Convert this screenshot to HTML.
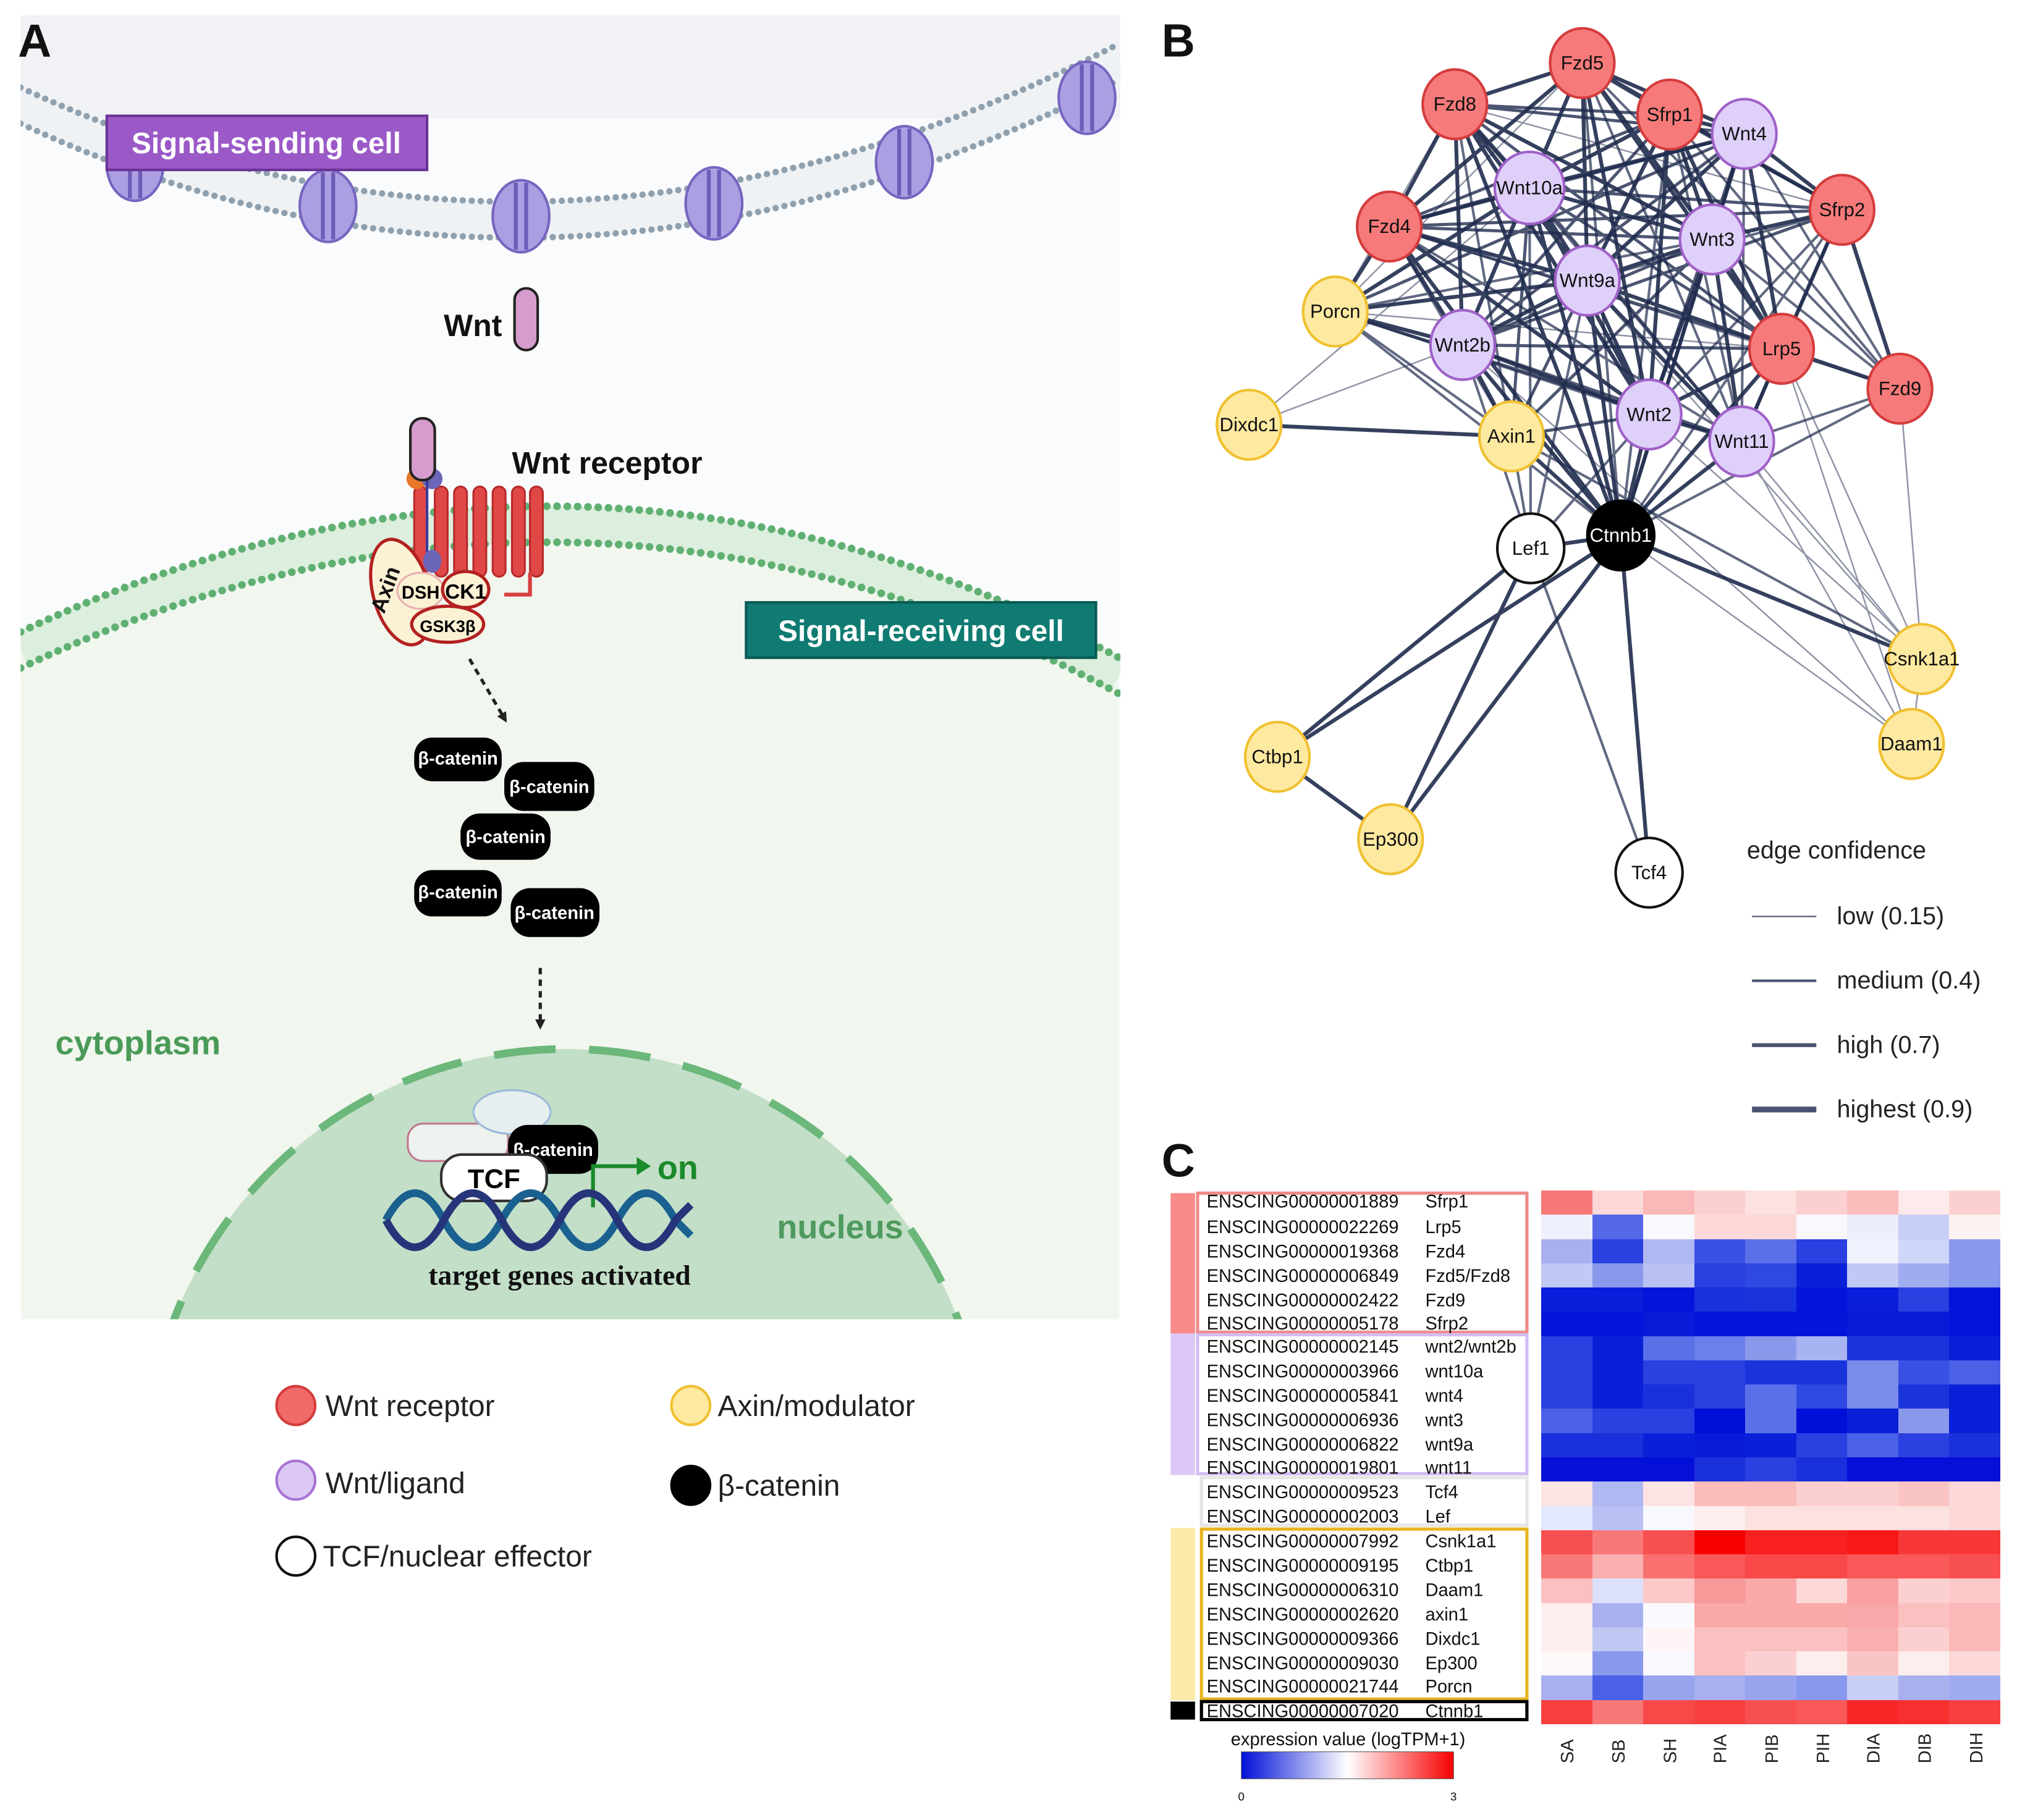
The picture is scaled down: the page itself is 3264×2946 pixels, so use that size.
<!DOCTYPE html>
<html><head><meta charset="utf-8"><style>
html,body{margin:0;padding:0;background:#fff;}
#w{position:relative;width:3264px;height:2946px;overflow:hidden;}
svg{position:absolute;left:0;top:0;}
#hm{position:absolute;left:2494px;top:1927px;width:743px;height:864px;display:grid;grid-template-columns:repeat(9,1fr);grid-template-rows:repeat(22,1fr);}
#hm i{display:block;}
</style></head><body><div id="w">
<svg width="3264" height="2946" viewBox="0 0 1568 1414" preserveAspectRatio="none" font-family="Liberation Sans, DejaVu Sans, sans-serif">
<defs>
<clipPath id="ca"><rect x="16" y="12" width="855" height="1013"/></clipPath>
<linearGradient id="cb" x1="0" x2="1"><stop offset="0" stop-color="#0010d8"/><stop offset=".5" stop-color="#ffffff"/><stop offset="1" stop-color="#f80000"/></linearGradient>
<marker id="ah" markerWidth="8" markerHeight="8" refX="4" refY="4" orient="auto" markerUnits="userSpaceOnUse"><path d="M0,0 L8,4 L0,8Z" fill="#222"/></marker>
</defs>
<!-- PANEL A -->
<g clip-path="url(#ca)">
<rect x="16" y="12" width="855" height="1013" fill="#fafbfc"/>
<rect x="16" y="12" width="855" height="80" fill="#f0f2f5"/>
<path d="M16,82 Q430,275 870,48" fill="none" stroke="#eef2f5" stroke-width="28"/>
<path d="M16,68 Q430,261 870,34" fill="none" stroke="#8fa0ae" stroke-width="5" stroke-linecap="round" stroke-dasharray="0 7"/>
<path d="M16,96 Q430,289 870,62" fill="none" stroke="#8fa0ae" stroke-width="5" stroke-linecap="round" stroke-dasharray="0 7"/>
<g fill="#ab9ee2" stroke="#7565c0" stroke-width="2">
<ellipse cx="105" cy="128" rx="22" ry="28"/><ellipse cx="255" cy="160" rx="22" ry="28"/><ellipse cx="405" cy="168" rx="22" ry="28"/><ellipse cx="555" cy="158" rx="22" ry="28"/><ellipse cx="703" cy="126" rx="22" ry="28"/><ellipse cx="845" cy="76" rx="22" ry="28"/>
</g>
<g stroke="#6d5cb8" stroke-width="3">
<line x1="101" y1="102" x2="101" y2="154"/><line x1="109" y1="102" x2="109" y2="154"/>
<line x1="251" y1="134" x2="251" y2="186"/><line x1="259" y1="134" x2="259" y2="186"/>
<line x1="401" y1="142" x2="401" y2="194"/><line x1="409" y1="142" x2="409" y2="194"/>
<line x1="551" y1="132" x2="551" y2="184"/><line x1="559" y1="132" x2="559" y2="184"/>
<line x1="699" y1="100" x2="699" y2="152"/><line x1="707" y1="100" x2="707" y2="152"/>
<line x1="841" y1="50" x2="841" y2="102"/><line x1="849" y1="50" x2="849" y2="102"/>
</g>
<rect x="83" y="90" width="249" height="42" fill="#9b59c8" stroke="#6a3396" stroke-width="2"/>
<text x="207" y="119" font-size="23" font-weight="bold" fill="#fff" text-anchor="middle">Signal-sending cell</text>
<text x="345" y="261" font-size="24" font-weight="bold" fill="#111">Wnt</text>
<rect x="400" y="224" width="18" height="48" rx="9" fill="#d59ccd" stroke="#222" stroke-width="2"/>
<path d="M16,505 Q450,300 870,525 L870,1025 L16,1025Z" fill="#f1f6ef"/>
<path d="M16,505 Q450,300 870,525" fill="none" stroke="#dceedd" stroke-width="28"/>
<path d="M16,491 Q450,286 870,511" fill="none" stroke="#5fb072" stroke-width="6" stroke-linecap="round" stroke-dasharray="0 8"/>
<path d="M16,519 Q450,314 870,539" fill="none" stroke="#5fb072" stroke-width="6" stroke-linecap="round" stroke-dasharray="0 8"/>
<circle cx="440" cy="1141" r="326" fill="#c3dfc8" stroke="#6cb77a" stroke-width="6" stroke-dasharray="48 26"/>
<g fill="#e04848" stroke="#b82a2a" stroke-width="1.5">
<rect x="322" y="378" width="10" height="70" rx="5"/><rect x="338" y="378" width="10" height="70" rx="5"/><rect x="353" y="378" width="10" height="70" rx="5"/><rect x="368" y="378" width="10" height="70" rx="5"/><rect x="383" y="378" width="10" height="70" rx="5"/><rect x="398" y="378" width="10" height="70" rx="5"/><rect x="412" y="378" width="10" height="70" rx="5"/>
</g>
<path d="M412,445 L412,462 L392,462" fill="none" stroke="#d84040" stroke-width="3"/>
<circle cx="324" cy="372" r="8" fill="#e8762a"/><circle cx="336" cy="372" r="8" fill="#6b66b8"/>
<line x1="332" y1="372" x2="332" y2="430" stroke="#3a3a9a" stroke-width="2"/>
<ellipse cx="336" cy="436" rx="7" ry="9" fill="#6b66b8"/>
<rect x="319" y="325" width="19" height="48" rx="9" fill="#d59ccd" stroke="#222" stroke-width="2"/>
<ellipse cx="312" cy="460" rx="22" ry="42" fill="#fbf1d5" stroke="#b32020" stroke-width="2.5" transform="rotate(-15 312 460)"/>
<text x="305" y="460" font-size="17" font-weight="bold" fill="#111" transform="rotate(-70 305 460)" text-anchor="middle">Axin</text>
<ellipse cx="327" cy="459" rx="18" ry="14" fill="#fbf1d5" stroke="#e8b0b0" stroke-width="1.5"/>
<text x="327" y="465" font-size="14" font-weight="bold" text-anchor="middle">DSH</text>
<ellipse cx="362" cy="458" rx="18" ry="14" fill="#fbf1d5" stroke="#b32020" stroke-width="2.5"/>
<text x="362" y="465" font-size="16" font-weight="bold" text-anchor="middle">CK1</text>
<ellipse cx="348" cy="485" rx="28" ry="14" fill="#fbf1d5" stroke="#b32020" stroke-width="2.5"/>
<text x="348" y="491" font-size="13" font-weight="bold" text-anchor="middle">GSK3β</text>
<rect x="580" y="468" width="272" height="43" fill="#0f7b72" stroke="#0a5a53" stroke-width="2"/>
<text x="716" y="498" font-size="23" font-weight="bold" fill="#fff" text-anchor="middle">Signal-receiving cell</text>
<line x1="365" y1="512" x2="392" y2="558" stroke="#222" stroke-width="2.5" stroke-dasharray="5 4" marker-end="url(#ah)"/>
<g fill="#000"><rect x="322" y="573" width="68" height="34" rx="14"/><rect x="392" y="592" width="70" height="38" rx="15"/><rect x="358" y="632" width="70" height="36" rx="15"/><rect x="322" y="676" width="68" height="36" rx="14"/><rect x="397" y="690" width="69" height="38" rx="15"/></g>
<g fill="#fff" font-size="14" font-weight="bold" text-anchor="middle"><text x="356" y="594">β-catenin</text><text x="427" y="616">β-catenin</text><text x="393" y="655">β-catenin</text><text x="356" y="698">β-catenin</text><text x="431" y="714">β-catenin</text></g>
<line x1="420" y1="752" x2="420" y2="796" stroke="#222" stroke-width="2.5" stroke-dasharray="5 4" marker-end="url(#ah)"/>
<text x="43" y="819" font-size="26" font-weight="bold" fill="#4a9a58">cytoplasm</text>
<text x="604" y="962" font-size="26" font-weight="bold" fill="#4f9a5e">nucleus</text>
<rect x="317" y="873" width="78" height="29" rx="12" fill="#eef2ee" stroke="#c07890" stroke-width="1.5"/>
<ellipse cx="398" cy="864" rx="30" ry="17" fill="#e6eef0" stroke="#9ab8d8" stroke-width="1.5"/>
<rect x="395" y="874" width="70" height="38" rx="15" fill="#000"/>
<text x="430" y="898" fill="#fff" font-size="14" font-weight="bold" text-anchor="middle">β-catenin</text>
<rect x="343" y="897" width="82" height="36" rx="16" fill="#fff" stroke="#333" stroke-width="2"/>
<text x="384" y="923" font-size="21" font-weight="bold" text-anchor="middle">TCF</text>
<path d="M461,938 L461,906 L497,906" fill="none" stroke="#1a8a2a" stroke-width="3"/>
<path d="M495,899 L506,906 L495,913Z" fill="#1a8a2a"/>
<text x="511" y="916" font-size="26" font-weight="bold" fill="#1a8a2a">on</text>
<path d="M300,948 C315,920 330,920 345,948 S375,976 390,948 S420,920 435,948 S465,976 480,948 S510,920 525,948 L537,960" fill="none" stroke="#1a6090" stroke-width="6"/>
<path d="M300,948 C315,976 330,976 345,948 S375,920 390,948 S420,976 435,948 S465,920 480,948 S510,976 525,948 L537,936" fill="none" stroke="#26357a" stroke-width="6"/>
<text x="435" y="998" font-size="22" font-weight="bold" font-family="Liberation Serif, serif" text-anchor="middle" fill="#111">target genes activated</text>
<text x="398" y="368" font-size="24" font-weight="bold" fill="#111">Wnt receptor</text>
</g>
<g stroke-width="2">
<circle cx="230" cy="1092" r="15" fill="#f06a6a" stroke="#d43c3c"/>
<circle cx="230" cy="1150" r="15" fill="#dcc8f4" stroke="#a572d3"/>
<circle cx="230" cy="1209" r="15" fill="#fff" stroke="#111"/>
<circle cx="537" cy="1092" r="15" fill="#fde9a0" stroke="#f0c030"/>
<circle cx="537" cy="1154" r="15" fill="#000" stroke="#000"/>
</g>
<g font-size="23" fill="#222"><text x="253" y="1100">Wnt receptor</text><text x="253" y="1160">Wnt/ligand</text><text x="251" y="1217">TCF/nuclear effector</text><text x="558" y="1100">Axin/modulator</text><text x="558" y="1162">β-catenin</text></g>
<g font-size="36" font-weight="bold" fill="#111"><text x="14" y="44">A</text><text x="903" y="44">B</text><text x="903" y="914">C</text></g>
<!-- PANEL B edges -->
<g fill="none" stroke="#1f2b4d" stroke-linecap="round">
<path stroke-width="3" stroke-opacity=".9" d="M1230,49L1131,81M1230,49L1298,89M1230,49L1356,104M1230,49L1189,146M1230,49L1080,176M1230,49L1331,186M1230,49L1234,218M1230,49L1137,268M1230,49L1282,322M1230,49L1385,271M1131,81L1189,146M1131,81L1080,176M1131,81L1234,218M1131,81L1137,268M1131,81L1331,186M1131,81L1282,322M1298,89L1356,104M1298,89L1189,146M1298,89L1331,186M1298,89L1234,218M1298,89L1282,322M1356,104L1331,186M1356,104L1234,218M1356,104L1189,146M1356,104L1432,163M1189,146L1080,176M1189,146L1234,218M1189,146L1137,268M1189,146L1282,322M1189,146L1331,186M1080,176L1234,218M1080,176L1137,268M1080,176L1282,322M1331,186L1234,218M1331,186L1385,271M1331,186L1282,322M1331,186L1354,343M1234,218L1137,268M1234,218L1282,322M1234,218L1385,271M1234,218L1354,343M1137,268L1282,322M1137,268L1175,339M1385,271L1282,322M1385,271L1354,343M1385,271L1477,302M1282,322L1354,343M1282,322L1260,416M1137,268L1260,416M1189,146L1260,416M1234,218L1260,416M1080,176L1260,416M1131,81L1260,416M1175,339L1260,416M1331,186L1260,416M1385,271L1260,416M1354,343L1260,416M1038,242L1137,268M1038,242L1189,146M1038,242L1234,218M1432,163L1331,186M1432,163L1385,271M1432,163L1477,302M1356,104L1385,271M1298,89L1385,271M1230,49L1432,163M1038,242L1080,176M1190,426L1260,416M993,588L1190,426M993,588L1260,416M993,588L1081,652M1081,652L1260,416M1081,652L1190,426M1282,678L1260,416M1494,512L1260,416M971,330L1175,339"/>
<path stroke-width="2.4" stroke-opacity=".8" d="M1131,81L1298,89M1131,81L1356,104M1298,89L1080,176M1298,89L1137,268M1356,104L1080,176M1356,104L1137,268M1356,104L1282,322M1189,146L1385,271M1189,146L1354,343M1080,176L1331,186M1080,176L1385,271M1137,268L1385,271M1137,268L1354,343M1137,268L1331,186M1175,339L1282,322M1175,339L1234,218M1175,339L1189,146M1175,339L1331,186M1038,242L1354,343M1080,176L1432,163M1137,268L1432,163M1131,81L1385,271M1298,89L1432,163M1038,242L1356,104M1080,176L1298,89M1189,146L1432,163"/>
<path stroke-width="2" stroke-opacity=".7" d="M1230,49L1477,302M1298,89L1477,302M1356,104L1477,302M1432,163L1354,343M1432,163L1282,322M1432,163L1234,218M1038,242L1282,322M1038,242L1175,339M1080,176L1175,339M1131,81L1175,339M1477,302L1354,343M1477,302L1331,186M1230,49L1354,343M1298,89L1354,343M1356,104L1354,343M1131,81L1354,343M1080,176L1354,343M1038,242L1331,186M1038,242L1260,416M1356,104L1260,416M1298,89L1260,416M1230,49L1260,416M1477,302L1260,416M1432,163L1260,416M1190,426L1175,339M1190,426L1137,268M1190,426L1282,322M1190,426L1189,146M1190,426L1234,218M1282,678L1190,426M1494,512L1175,339"/>
<path stroke-width="1.2" stroke-opacity=".5" d="M1038,242L1230,49M1038,242L1131,81M1038,242L1385,271M1080,176L1477,302M1131,81L1432,163M971,330L1137,268M971,330L1189,146M1494,512L1354,343M1494,512L1282,322M1494,512L1385,271M1494,512L1477,302M1494,512L1486,578M1486,578L1260,416M1486,578L1137,268M1486,578L1385,271M1486,578L1354,343M1494,512L1234,218"/>
</g>
<g stroke-width="2">
<g fill="#f77a7a" stroke="#d43c3c"><ellipse cx="1230" cy="49" rx="25" ry="27"/><ellipse cx="1131" cy="81" rx="25" ry="27"/><ellipse cx="1298" cy="89" rx="25" ry="27"/><ellipse cx="1432" cy="163" rx="25" ry="27"/><ellipse cx="1080" cy="176" rx="25" ry="27"/><ellipse cx="1385" cy="271" rx="25" ry="27"/><ellipse cx="1477" cy="302" rx="25" ry="27"/></g>
<g fill="#dfd0fa" stroke="#a060c8"><ellipse cx="1356" cy="104" rx="25" ry="27"/><ellipse cx="1189" cy="146" rx="27" ry="28"/><ellipse cx="1331" cy="186" rx="25" ry="27"/><ellipse cx="1234" cy="218" rx="25" ry="27"/><ellipse cx="1137" cy="268" rx="25" ry="27"/><ellipse cx="1282" cy="322" rx="25" ry="27"/><ellipse cx="1354" cy="343" rx="25" ry="27"/></g>
<g fill="#fde9a0" stroke="#f0c030"><ellipse cx="1038" cy="242" rx="25" ry="27"/><ellipse cx="971" cy="330" rx="25" ry="27"/><ellipse cx="1175" cy="339" rx="25" ry="27"/><ellipse cx="1494" cy="512" rx="26" ry="27"/><ellipse cx="1486" cy="578" rx="25" ry="27"/><ellipse cx="993" cy="588" rx="25" ry="27"/><ellipse cx="1081" cy="652" rx="25" ry="27"/></g>
<g fill="#fff" stroke="#111"><ellipse cx="1190" cy="426" rx="26" ry="27"/><ellipse cx="1282" cy="678" rx="26" ry="27"/></g>
<ellipse cx="1260" cy="416" rx="26" ry="27" fill="#000" stroke="#000"/>
</g>
<g font-size="15" text-anchor="middle" fill="#111">
<text x="1230" y="54">Fzd5</text><text x="1131" y="86">Fzd8</text><text x="1298" y="94">Sfrp1</text><text x="1356" y="109">Wnt4</text><text x="1189" y="151">Wnt10a</text><text x="1432" y="168">Sfrp2</text><text x="1080" y="181">Fzd4</text><text x="1331" y="191">Wnt3</text><text x="1234" y="223">Wnt9a</text><text x="1038" y="247">Porcn</text><text x="1137" y="273">Wnt2b</text><text x="1385" y="276">Lrp5</text><text x="1477" y="307">Fzd9</text><text x="971" y="335">Dixdc1</text><text x="1175" y="344">Axin1</text><text x="1282" y="327">Wnt2</text><text x="1354" y="348">Wnt11</text><text x="1190" y="431">Lef1</text><text x="1260" y="421" fill="#fff">Ctnnb1</text><text x="1494" y="517">Csnk1a1</text><text x="1486" y="583">Daam1</text><text x="993" y="593">Ctbp1</text><text x="1081" y="657">Ep300</text><text x="1282" y="683">Tcf4</text>
</g>
<text x="1358" y="667" font-size="19" fill="#222">edge confidence</text>
<g stroke="#4a5270"><line x1="1362" y1="712" x2="1412" y2="712" stroke-width="1"/><line x1="1362" y1="762" x2="1412" y2="762" stroke-width="2"/><line x1="1362" y1="812" x2="1412" y2="812" stroke-width="3"/><line x1="1362" y1="862" x2="1412" y2="862" stroke-width="4.5"/></g>
<g font-size="19" fill="#222"><text x="1428" y="718">low (0.15)</text><text x="1428" y="768">medium (0.4)</text><text x="1428" y="818">high (0.7)</text><text x="1428" y="868">highest (0.9)</text></g>
<!-- PANEL C labels -->
<rect x="910" y="927" width="19" height="109" fill="#f88a8a"/>
<rect x="910" y="1036" width="19" height="110" fill="#dcc8f8"/>
<rect x="910" y="1187" width="19" height="134" fill="#fde9a8"/>
<rect x="910" y="1322" width="19" height="14" fill="#000"/>
<g fill="none" stroke-width="2.5">
<rect x="931" y="927" width="256" height="108" stroke="#f08a8a"/>
<rect x="931" y="1037" width="256" height="108" stroke="#d4bcf4"/>
<rect x="934" y="1148" width="253" height="37" stroke="#e6e6e6"/>
<rect x="934" y="1188" width="253" height="132" stroke="#e8b420"/>
<rect x="934" y="1322" width="253" height="14" stroke="#000"/>
</g>
<g font-size="14" fill="#111">
<text x="938" y="938">ENSCING00000001889</text><text x="1108" y="938">Sfrp1</text>
<text x="938" y="958">ENSCING00000022269</text><text x="1108" y="958">Lrp5</text>
<text x="938" y="977">ENSCING00000019368</text><text x="1108" y="977">Fzd4</text>
<text x="938" y="996">ENSCING00000006849</text><text x="1108" y="996">Fzd5/Fzd8</text>
<text x="938" y="1015">ENSCING00000002422</text><text x="1108" y="1015">Fzd9</text>
<text x="938" y="1033">ENSCING00000005178</text><text x="1108" y="1033">Sfrp2</text>
<text x="938" y="1051">ENSCING00000002145</text><text x="1108" y="1051">wnt2/wnt2b</text>
<text x="938" y="1070">ENSCING00000003966</text><text x="1108" y="1070">wnt10a</text>
<text x="938" y="1089">ENSCING00000005841</text><text x="1108" y="1089">wnt4</text>
<text x="938" y="1108">ENSCING00000006936</text><text x="1108" y="1108">wnt3</text>
<text x="938" y="1127">ENSCING00000006822</text><text x="1108" y="1127">wnt9a</text>
<text x="938" y="1145">ENSCING00000019801</text><text x="1108" y="1145">wnt11</text>
<text x="938" y="1164">ENSCING00000009523</text><text x="1108" y="1164">Tcf4</text>
<text x="938" y="1183">ENSCING00000002003</text><text x="1108" y="1183">Lef</text>
<text x="938" y="1202">ENSCING00000007992</text><text x="1108" y="1202">Csnk1a1</text>
<text x="938" y="1221">ENSCING00000009195</text><text x="1108" y="1221">Ctbp1</text>
<text x="938" y="1240">ENSCING00000006310</text><text x="1108" y="1240">Daam1</text>
<text x="938" y="1259">ENSCING00000002620</text><text x="1108" y="1259">axin1</text>
<text x="938" y="1278">ENSCING00000009366</text><text x="1108" y="1278">Dixdc1</text>
<text x="938" y="1297">ENSCING00000009030</text><text x="1108" y="1297">Ep300</text>
<text x="938" y="1315">ENSCING00000021744</text><text x="1108" y="1315">Porcn</text>
<text x="938" y="1334">ENSCING00000007020</text><text x="1108" y="1334">Ctnnb1</text>
</g>
<text x="1048" y="1356" font-size="14" text-anchor="middle" fill="#111">expression value (logTPM+1)</text>
<rect x="965" y="1361" width="165" height="21" fill="url(#cb)" stroke="#555" stroke-width=".5"/>
<g font-size="9" fill="#111" text-anchor="middle"><text x="965" y="1399">0</text><text x="1130" y="1399">3</text></g>
<g font-size="14" fill="#222">
<text transform="translate(1223,1370) rotate(-90)">SA</text><text transform="translate(1263,1370) rotate(-90)">SB</text><text transform="translate(1303,1370) rotate(-90)">SH</text><text transform="translate(1342,1370) rotate(-90)">PIA</text><text transform="translate(1382,1370) rotate(-90)">PIB</text><text transform="translate(1422,1370) rotate(-90)">PIH</text><text transform="translate(1461,1370) rotate(-90)">DIA</text><text transform="translate(1501,1370) rotate(-90)">DIB</text><text transform="translate(1541,1370) rotate(-90)">DIH</text>
</g>
</svg>
<div id="hm">
<i style="background:#f87878"></i><i style="background:#fcd8d8"></i><i style="background:#fab8b8"></i><i style="background:#fcd0d0"></i><i style="background:#fde0e0"></i><i style="background:#fcd0d0"></i><i style="background:#fbbcbc"></i><i style="background:#fdeaea"></i><i style="background:#fcd0d0"></i>
<i style="background:#eef0fc"></i><i style="background:#5468e8"></i><i style="background:#f8f8fe"></i><i style="background:#fcd8d8"></i><i style="background:#fcd8d8"></i><i style="background:#f8f8fe"></i><i style="background:#eceefc"></i><i style="background:#c8cef6"></i><i style="background:#fdf2f2"></i>
<i style="background:#a8b0f0"></i><i style="background:#2a40e0"></i><i style="background:#b0b8f2"></i><i style="background:#3a50e4"></i><i style="background:#5a70e8"></i><i style="background:#2a40e0"></i><i style="background:#f0f2fe"></i><i style="background:#d0d6f8"></i><i style="background:#8a98ec"></i>
<i style="background:#c0c8f4"></i><i style="background:#8a98ec"></i><i style="background:#b8c0f4"></i><i style="background:#2a40e0"></i><i style="background:#3048e2"></i><i style="background:#0a20d8"></i><i style="background:#c0c8f4"></i><i style="background:#a0acf0"></i><i style="background:#8898ec"></i>
<i style="background:#0a1edc"></i><i style="background:#0a1edc"></i><i style="background:#0414d8"></i><i style="background:#1a30dc"></i><i style="background:#1a34dc"></i><i style="background:#0414d8"></i><i style="background:#0a1edc"></i><i style="background:#2a40e0"></i><i style="background:#0414d8"></i>
<i style="background:#0414d8"></i><i style="background:#0414d8"></i><i style="background:#0a1ad8"></i><i style="background:#0414d8"></i><i style="background:#0414d8"></i><i style="background:#0414d8"></i><i style="background:#0a1ad8"></i><i style="background:#0a1ad8"></i><i style="background:#0414d8"></i>
<i style="background:#2a40e0"></i><i style="background:#0a20d8"></i><i style="background:#5a70e8"></i><i style="background:#6a80ea"></i><i style="background:#8a98ec"></i><i style="background:#a8b4f2"></i><i style="background:#1a34dc"></i><i style="background:#1a34dc"></i><i style="background:#0a20d8"></i>
<i style="background:#2a40e0"></i><i style="background:#0a20d8"></i><i style="background:#2a40e0"></i><i style="background:#2a40e0"></i><i style="background:#1a34dc"></i><i style="background:#1a34dc"></i><i style="background:#7a8cea"></i><i style="background:#3a50e4"></i><i style="background:#4a60e6"></i>
<i style="background:#2a40e0"></i><i style="background:#0a20d8"></i><i style="background:#1a30dc"></i><i style="background:#2a40e0"></i><i style="background:#5a70e8"></i><i style="background:#3048e2"></i><i style="background:#7a8cea"></i><i style="background:#1a34dc"></i><i style="background:#0a20d8"></i>
<i style="background:#4a60e6"></i><i style="background:#2a40e0"></i><i style="background:#2a40e0"></i><i style="background:#0010d8"></i><i style="background:#5a70e8"></i><i style="background:#0010d8"></i><i style="background:#0a20d8"></i><i style="background:#8a98ec"></i><i style="background:#0a20d8"></i>
<i style="background:#1a30dc"></i><i style="background:#1a30dc"></i><i style="background:#0a20d8"></i><i style="background:#0a1ad8"></i><i style="background:#0a20d8"></i><i style="background:#2a40e0"></i><i style="background:#4a60e6"></i><i style="background:#2a40e0"></i><i style="background:#1a30dc"></i>
<i style="background:#0410d8"></i><i style="background:#0410d8"></i><i style="background:#0410d8"></i><i style="background:#1a30dc"></i><i style="background:#2a40e0"></i><i style="background:#1a30dc"></i><i style="background:#0410d8"></i><i style="background:#0410d8"></i><i style="background:#0410d8"></i>
<i style="background:#fde4e4"></i><i style="background:#b0b8f2"></i><i style="background:#fde4e4"></i><i style="background:#fbbcbc"></i><i style="background:#fbbcbc"></i><i style="background:#fcd0d0"></i><i style="background:#fcd0d0"></i><i style="background:#fbc4c4"></i><i style="background:#fcd8d8"></i>
<i style="background:#e4e8fc"></i><i style="background:#b8c0f4"></i><i style="background:#f8f8fe"></i><i style="background:#fdeeee"></i><i style="background:#fde0e0"></i><i style="background:#fde0e0"></i><i style="background:#fde0e0"></i><i style="background:#fde0e0"></i><i style="background:#fcd8d8"></i>
<i style="background:#f85050"></i><i style="background:#f87878"></i><i style="background:#f85050"></i><i style="background:#f80000"></i><i style="background:#f82020"></i><i style="background:#f82020"></i><i style="background:#f81818"></i><i style="background:#f83838"></i><i style="background:#f83838"></i>
<i style="background:#f87878"></i><i style="background:#fab0b0"></i><i style="background:#f87070"></i><i style="background:#f85858"></i><i style="background:#f84848"></i><i style="background:#f84848"></i><i style="background:#f85858"></i><i style="background:#f85858"></i><i style="background:#f85050"></i>
<i style="background:#fbc0c0"></i><i style="background:#dce0fa"></i><i style="background:#fcc8c8"></i><i style="background:#f89898"></i><i style="background:#faa8a8"></i><i style="background:#fcd8d8"></i><i style="background:#f8a0a0"></i><i style="background:#fcd0d0"></i><i style="background:#fcc8c8"></i>
<i style="background:#fdeeee"></i><i style="background:#a8b0f0"></i><i style="background:#fafafe"></i><i style="background:#faa8a8"></i><i style="background:#faa8a8"></i><i style="background:#faa8a8"></i><i style="background:#f8a8a8"></i><i style="background:#fbc0c0"></i><i style="background:#fbb8b8"></i>
<i style="background:#fdeeee"></i><i style="background:#c0c8f4"></i><i style="background:#fef6f6"></i><i style="background:#fbc0c0"></i><i style="background:#fbc0c0"></i><i style="background:#fbc0c0"></i><i style="background:#fab0b0"></i><i style="background:#fcd0d0"></i><i style="background:#fab8b8"></i>
<i style="background:#fef8f8"></i><i style="background:#8898ec"></i><i style="background:#f8f8fe"></i><i style="background:#fbc0c0"></i><i style="background:#fcd0d0"></i><i style="background:#fdeeee"></i><i style="background:#fbc4c4"></i><i style="background:#fdeeee"></i><i style="background:#fcd8d8"></i>
<i style="background:#a8b0f0"></i><i style="background:#4a60e6"></i><i style="background:#98a4ee"></i><i style="background:#a8b0f0"></i><i style="background:#98a4ee"></i><i style="background:#8898ec"></i><i style="background:#c8cef6"></i><i style="background:#a8b0f0"></i><i style="background:#a0acf0"></i>
<i style="background:#f84040"></i><i style="background:#f87878"></i><i style="background:#f84848"></i><i style="background:#f84040"></i><i style="background:#f85050"></i><i style="background:#f85858"></i><i style="background:#f82828"></i><i style="background:#f83030"></i><i style="background:#f84040"></i>
</div>
</div></body></html>
